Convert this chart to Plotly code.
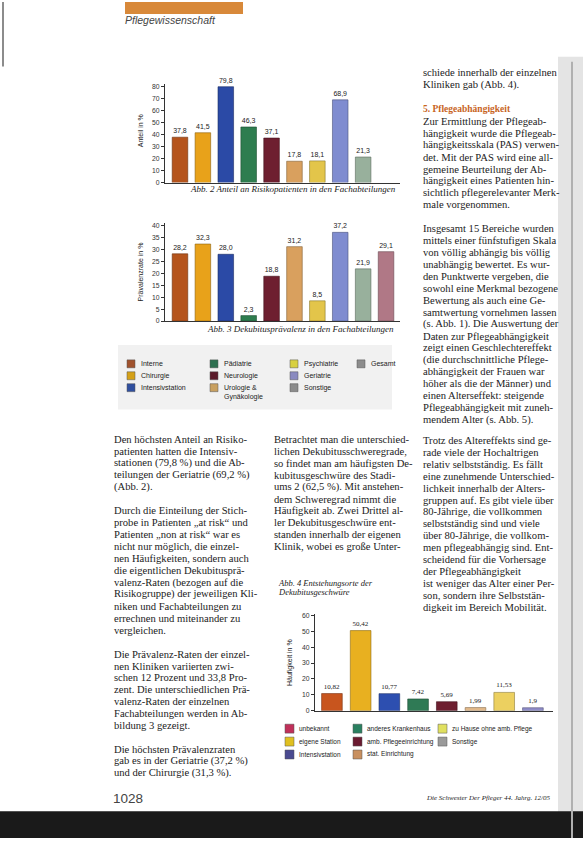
import plotly.graph_objects as go

W, H = 583, 841

def px(x):
    return x / W

def py(y):
    return 1 - y / H

# ---------------- data ----------------
abt_kategorien = ["Interne", "Chirurgie", "Intensivstation", "Pädiatrie", "Neurologie",
                  "Urologie & Gynäkologie", "Psychiatrie", "Geriatrie", "Sonstige"]
risiko_anteil = [37.8, 41.5, 79.8, 46.3, 37.1, 17.8, 18.1, 68.9, 21.3]

praev_kategorien = abt_kategorien + ["Gesamt"]
praevalenz = [28.2, 32.3, 28.0, 2.3, 18.8, 31.2, 8.5, 37.2, 21.9, 29.1]

ort_kategorien = ["unbekannt", "eigene Station", "Intensivstation", "anderes Krankenhaus",
                  "amb. Pflegeeinrichtung", "stat. Einrichtung", "zu Hause ohne amb. Pflege", "Sonstige"]
ort_haeufigkeit = [10.82, 50.42, 10.77, 7.42, 5.69, 1.99, 11.53, 1.9]

ticks_anteil = [0, 10, 20, 30, 40, 50, 60, 70, 80]
ticks_praev = [0, 5, 10, 15, 20, 25, 30, 35, 40]
ticks_ort = [0, 10, 20, 30, 40, 50, 60]

# ---------------- styles ----------------
abt_farben = ["#b5541c", "#e8a21a", "#2b4aa6", "#2e7d4f", "#6e1f30",
              "#d9a05e", "#e3c54a", "#7f8cd0", "#98b09c", "#b07886"]
ort_farben = ["#c8551e", "#e8b020", "#2d4fb0", "#2f7a55", "#6e1f30",
              "#e2b98a", "#ecd060", "#8e8cc8"]

def lab(v):
    return str(v).replace(".", ",")

def darker(hexc, f=0.6):
    h = hexc.lstrip("#")
    r, g, b = int(h[0:2], 16), int(h[2:4], 16), int(h[4:6], 16)
    return "#%02x%02x%02x" % (int(r * f), int(g * f), int(b * f))

fig = go.Figure()

fig.add_trace(go.Bar(x=abt_kategorien, y=risiko_anteil, xaxis="x", yaxis="y",
                     marker=dict(color=abt_farben[:9], line=dict(color=[darker(c) for c in abt_farben[:9]], width=0.6)),
                     width=0.68, text=[lab(v) for v in risiko_anteil], textposition="outside",
                     textfont=dict(size=7, color="#222", family="Liberation Sans"), cliponaxis=False,
                     showlegend=False, hoverinfo="skip"))
fig.add_trace(go.Bar(x=praev_kategorien, y=praevalenz, xaxis="x2", yaxis="y2",
                     marker=dict(color=abt_farben, line=dict(color=[darker(c) for c in abt_farben], width=0.6)),
                     width=0.68, text=[lab(v) for v in praevalenz], textposition="outside",
                     textfont=dict(size=7, color="#222", family="Liberation Sans"), cliponaxis=False,
                     showlegend=False, hoverinfo="skip"))
fig.add_trace(go.Bar(x=ort_kategorien, y=ort_haeufigkeit, xaxis="x3", yaxis="y3",
                     marker=dict(color=ort_farben, line=dict(color=[darker(c) for c in ort_farben], width=0.6)),
                     width=0.72, text=[lab(v) for v in ort_haeufigkeit], textposition="outside",
                     textfont=dict(size=7, color="#222", family="Liberation Serif"), cliponaxis=False,
                     showlegend=False, hoverinfo="skip"))

ax_common = dict(showline=True, linecolor="#333", linewidth=1, showgrid=False, zeroline=False, fixedrange=True)
yax_common = dict(ax_common, ticks="outside", ticklen=3, tickcolor="#333",
                  tickfont=dict(size=6.8, color="#333", family="Liberation Sans"))

fig.update_layout(
    width=W, height=H, margin=dict(l=0, r=0, t=0, b=0),
    paper_bgcolor="white", plot_bgcolor="rgba(0,0,0,0)", bargap=0.3,
    xaxis=dict(ax_common, domain=[px(165), px(400)], range=[-0.655, 9.61], type="category",
               showticklabels=False, ticks="", anchor="y"),
    yaxis=dict(yax_common, domain=[py(181.7), py(82.6)], range=[0, 82], tickvals=ticks_anteil, anchor="x"),
    xaxis2=dict(ax_common, domain=[px(165), px(400)], range=[-0.655, 9.61], type="category",
                showticklabels=False, ticks="", anchor="y2"),
    yaxis2=dict(yax_common, domain=[py(321), py(222.6)], range=[0, 41], tickvals=ticks_praev, anchor="x2"),
    xaxis3=dict(ax_common, domain=[px(315), px(553)], range=[-0.59, 7.7], type="category",
                showticklabels=False, ticks="", anchor="y3"),
    yaxis3=dict(yax_common, domain=[py(713), py(615.4)], range=[0, 61], tickvals=ticks_ort, anchor="x3"),
)

shapes = []
ann = []

BODY = "Liberation Serif"

def text(x, y, s, size=10.6, family=BODY, color="#222", xanchor="left",
         yanchor="middle", angle=0, italic=False, bold=False):
    if italic:
        s = "<i>" + s + "</i>"
    if bold:
        s = "<b>" + s + "</b>"
    ann.append(dict(xref="paper", yref="paper", x=px(x), y=py(y), text=s, showarrow=False,
                    xanchor=xanchor, yanchor=yanchor, align="left", textangle=angle,
                    font=dict(size=size, family=family, color=color), borderpad=0))

def para(x, y0, lines, dy=12.0, **kw):
    for i, s in enumerate(lines):
        if s:
            text(x, y0 + i * dy, s, **kw)

def rect(x0, y0, x1, y1, fill, line=None):
    shapes.append(dict(type="rect", xref="paper", yref="paper", x0=px(x0), x1=px(x1),
                       y0=py(y1), y1=py(y0), fillcolor=fill,
                       line=dict(width=0 if line is None else 0.5, color=line or fill), layer="below"))

# header
rect(125, 0, 243, 12, "#d8893a")
text(124, 18, "Pflegewissenschaft", size=10.5, family="Liberation Sans", color="#444", italic=True)

# scan edges
rect(558, 55, 583, 841, "#e4e4e4")
shapes.append(dict(type="line", xref="paper", yref="paper", x0=px(572), x1=px(572), y0=py(841), y1=py(60),
                   line=dict(color="#b0b0b0", width=2)))
shapes.append(dict(type="line", xref="paper", yref="paper", x0=px(3), x1=px(3), y0=py(65), y1=py(0),
                   line=dict(color="#666", width=1.5)))
rect(0, 814, 583, 841, "#1a1a1a")

# axis titles
text(140, 130, "Anteil in %", size=7, family="Liberation Sans", angle=-90, xanchor="center")
text(140, 272, "Prävalenzrate in %", size=7, family="Liberation Sans", angle=-90, xanchor="center")
text(290, 665, "Häufigkeit in %", size=7, family="Liberation Sans", angle=-90, xanchor="center")

# captions
text(189, 188, "Abb. 2 Anteil an Risikopatienten in den Fachabteilungen", size=9, italic=True)
text(206, 329, "Abb. 3 Dekubitusprävalenz in den Fachabteilungen", size=9, italic=True)
text(277, 584, "Abb. 4 Entstehungsorte der", size=8.5, italic=True)
text(277, 594, "Dekubitusgeschwüre", size=8.5, italic=True)

# legend Abb. 2/3
rect(118, 345, 392, 410, "#f1f1f1")
leg1 = [
    (127, 364, "#a0522d", ["Interne"]), (127, 376, "#d4a017", ["Chirurgie"]), (127, 388, "#2f4f9f", ["Intensivstation"]),
    (210, 364, "#2e7050", ["Pädiatrie"]), (210, 376, "#5a1a2a", ["Neurologie"]), (210, 388, "#c8a060", ["Urologie &", "Gynäkologie"]),
    (290, 364, "#d8d040", ["Psychiatrie"]), (290, 376, "#8a8ac0", ["Geriatrie"]), (290, 388, "#8c8c8c", ["Sonstige"]),
    (357, 364, "#8c8c8c", ["Gesamt"]),
]
for x, y, c, s in leg1:
    shapes.append(dict(type="rect", xref="paper", yref="paper", x0=px(x), x1=px(x + 8), y0=py(y + 4), y1=py(y - 4),
                       fillcolor=c, line=dict(width=0.5, color="#555")))
    para(x + 13, y, s, dy=9, size=7, family="Liberation Sans")

# legend Abb. 4
leg2 = [
    (285, 731, "#c0305a", "unbekannt"), (285, 744, "#e0c020", "eigene Station"), (285, 757, "#4a4a90", "Intensivstation"),
    (353, 731, "#2a8060", "anderes Krankenhaus"), (353, 744, "#6a1a30", "amb. Pflegeeinrichtung"), (353, 757, "#c89060", "stat. Einrichtung"),
    (438, 731, "#e0e060", "zu Hause ohne amb. Pflege"), (438, 744, "#9a9a9a", "Sonstige"),
]
for x, y, c, s in leg2:
    shapes.append(dict(type="rect", xref="paper", yref="paper", x0=px(x), x1=px(x + 9), y0=py(y + 4.5), y1=py(y - 4.5),
                       fillcolor=c, line=dict(width=0.5, color="#555")))
    text(x + 13, y, s, size=6.5, family="Liberation Sans")

# body text (one annotation per printed line)
col1 = ["Den höchsten Anteil an Risiko-", "patienten hatten die Intensiv-", "stationen (79,8 %) und die Ab-",
        "teilungen der Geriatrie (69,2 %)", "(Abb. 2).", "",
        "Durch die Einteilung der Stich-", "probe in Patienten „at risk“ und", "Patienten „non at risk“ war es",
        "nicht nur möglich, die einzel-", "nen Häufigkeiten, sondern auch", "die eigentlichen Dekubitusprä-",
        "valenz-Raten (bezogen auf die", "Risikogruppe) der jeweiligen Kli-", "niken und Fachabteilungen zu",
        "errechnen und miteinander zu", "vergleichen.", "",
        "Die Prävalenz-Raten der einzel-", "nen Kliniken variierten zwi-", "schen 12 Prozent und 33,8 Pro-",
        "zent. Die unterschiedlichen Prä-", "valenz-Raten der einzelnen", "Fachabteilungen werden in Ab-",
        "bildung 3 gezeigt.", "",
        "Die höchsten Prävalenzraten", "gab es in der Geriatrie (37,2 %)", "und der Chirurgie (31,3 %)."]
para(113, 440, col1)

col2 = ["Betrachtet man die unterschied-", "lichen Dekubitusschweregrade,", "so findet man am häufigsten De-",
        "kubitusgeschwüre des Stadi-", "ums 2 (62,5 %). Mit anstehen-", "dem Schweregrad nimmt die",
        "Häufigkeit ab. Zwei Drittel al-", "ler Dekubitusgeschwüre ent-", "standen innerhalb der eigenen",
        "Klinik, wobei es große Unter-"]
para(273, 440, col2)

para(422, 71, ["schiede innerhalb der einzelnen", "Kliniken gab (Abb. 4)."])
text(422, 108, "5. Pflegeabhängigkeit", color="#c8641e", bold=True, size=9.5)
col3b = ["Zur Ermittlung der Pflegeab-", "hängigkeit wurde die Pflegeab-", "hängigkeitsskala (PAS) verwen-",
         "det. Mit der PAS wird eine all-", "gemeine Beurteilung der Ab-", "hängigkeit eines Patienten hin-",
         "sichtlich pflegerelevanter Merk-", "male vorgenommen.", "",
         "Insgesamt 15 Bereiche wurden", "mittels einer fünfstufigen Skala", "von völlig abhängig bis völlig",
         "unabhängig bewertet. Es wur-", "den Punktwerte vergeben, die", "sowohl eine Merkmal bezogene",
         "Bewertung als auch eine Ge-", "samtwertung vornehmen lassen", "(s. Abb. 1). Die Auswertung der",
         "Daten zur Pflegeabhängigkeit", "zeigt einen Geschlechtereffekt", "(die durchschnittliche Pflege-",
         "abhängigkeit der Frauen war", "höher als die der Männer) und", "einen Alterseffekt: steigende",
         "Pflegeabhängigkeit mit zuneh-", "mendem Alter (s. Abb. 5)."]
para(422, 120, col3b)
col3c = ["Trotz des Altereffekts sind ge-", "rade viele der Hochaltrigen", "relativ selbstständig. Es fällt",
         "eine zunehmende Unterschied-", "lichkeit innerhalb der Alters-", "gruppen auf. Es gibt viele über",
         "80-Jährige, die vollkommen", "selbstständig sind und viele", "über 80-Jährige, die vollkom-",
         "men pflegeabhängig sind. Ent-", "scheidend für die Vorhersage", "der Pflegeabhängigkeit",
         "ist weniger das Alter einer Per-", "son, sondern ihre Selbststän-", "digkeit im Bereich Mobilität."]
para(422, 441, col3c)

# footer
text(112, 801, "1028", size=13.5, family="Liberation Sans", color="#444")
text(425, 801, "Die Schwester Der Pfleger 44. Jahrg. 12/05", size=7, italic=True)

fig.update_layout(shapes=shapes, annotations=ann)
fig.write_html("out.html", config={"displayModeBar": False, "staticPlot": True},
               post_script="document.body.style.margin='0px';document.body.style.padding='0px';"
                           "document.body.style.overflow='hidden';document.documentElement.style.overflow='hidden';")
